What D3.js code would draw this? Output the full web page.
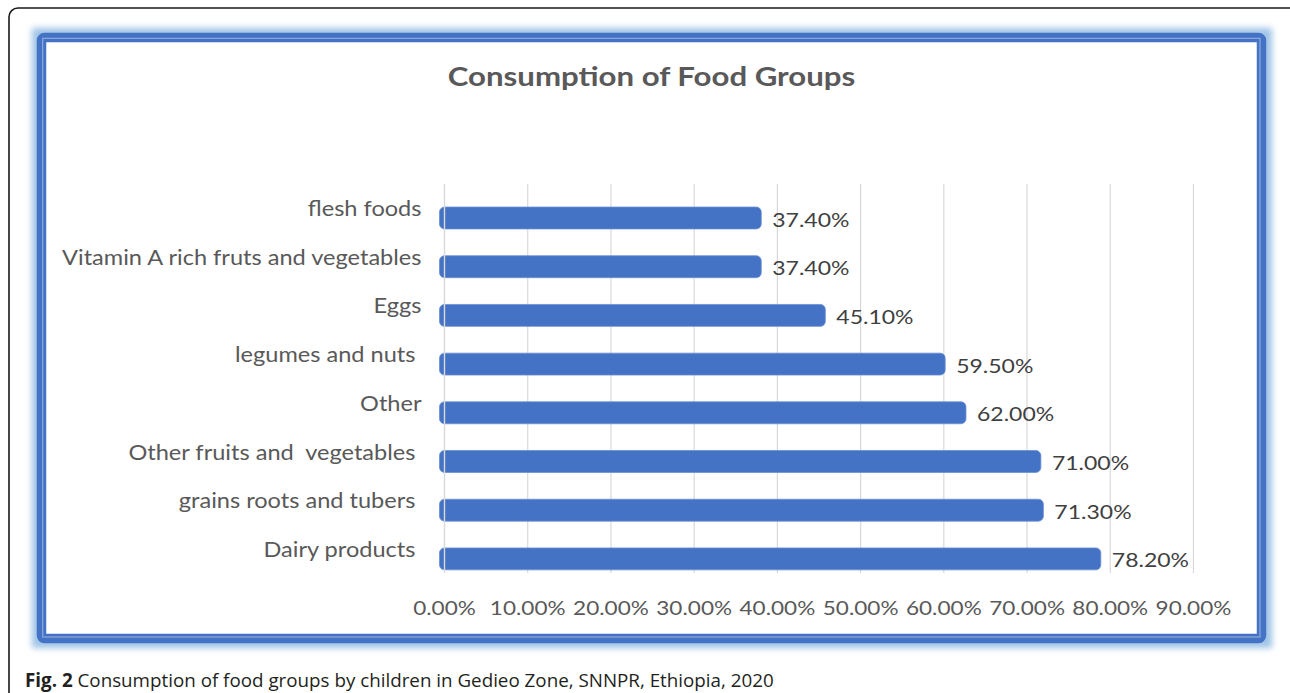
<!DOCTYPE html>
<html>
<head>
<meta charset="utf-8">
<script src="https://cdn.jsdelivr.net/npm/d3@7"></script>
<style>
  html, body { margin: 0; padding: 0; background: #fff; }
  svg { display: block; }
  text { white-space: pre; }
</style>
</head>
<body>
<svg id="chart" width="1290" height="693"></svg>
<script>
// ---- data ----
const categories = [
  "flesh foods",
  "Vitamin A rich fruts and vegetables",
  "Eggs",
  "legumes and nuts ",
  "Other",
  "Other fruits and  vegetables ",
  "grains roots and tubers ",
  "Dairy products "
];
const values = [0.374, 0.374, 0.451, 0.595, 0.62, 0.71, 0.713, 0.782];
const tickValues = [0, 0.1, 0.2, 0.3, 0.4, 0.5, 0.6, 0.7, 0.8, 0.9];
const titleText = "Consumption of Food Groups";
const captionBold = "Fig. 2";
const captionText = " Consumption of food groups by children in Gedieo Zone, SNNPR, Ethiopia, 2020";

const svg = d3.select("#chart");
const defs = svg.append("defs");
const glow = defs.append("filter").attr("id", "glow")
  .attr("x", "-5%").attr("y", "-5%").attr("width", "110%").attr("height", "110%");
glow.append("feGaussianBlur").attr("stdDeviation", 3);

// outer black frame
svg.append("rect").attr("x", 9).attr("y", 8).attr("width", 1295).attr("height", 720)
  .attr("rx", 9).attr("fill", "none").attr("stroke", "#1a1a1a").attr("stroke-width", 1.6);

// blue chart border with glow
svg.append("rect").attr("x", 37).attr("y", 33).attr("width", 1230).attr("height", 610)
  .attr("fill", "none").attr("stroke", "#9DC3E6").attr("stroke-width", 10)
  .attr("filter", "url(#glow)");
svg.append("rect").attr("x", 41.5).attr("y", 37.5).attr("width", 1220).attr("height", 601)
  .attr("rx", 3).attr("fill", "#fff").attr("stroke", "#4472C4").attr("stroke-width", 9.5);
svg.append("rect").attr("x", 42.7).attr("y", 38.3).attr("width", 1217.3).attr("height", 598.7)
  .attr("fill", "none").attr("stroke", "#8FAADC").attr("stroke-width", 1.2);

// scales
const x = d3.scaleLinear().domain([0, 0.9]).range([444.5, 1193.5]);
const y = d3.scaleBand().domain(categories).range([193.65, 583.25])
  .paddingInner(0.55).paddingOuter(0.275);
const gridTop = 184, gridBottom = 573;
const fmt = d3.format(".2%");
const chartFont = "Lato, 'Open Sans', sans-serif";
// the reference text is horizontally widened
const place = (px, py, sx) => `translate(${px},${py}) scale(${sx},1)`;

// gridlines (non-zero)
svg.append("g").selectAll("line").data(tickValues.filter(d => d > 0)).join("line")
  .attr("x1", d => x(d)).attr("x2", d => x(d))
  .attr("y1", gridTop).attr("y2", gridBottom)
  .attr("stroke", "#D9D9D9").attr("stroke-width", 1.2);

// bars
svg.append("g").selectAll("rect").data(values).join("rect")
  .attr("x", x(0) - 5)
  .attr("y", (d, i) => y(categories[i]))
  .attr("width", d => x(d) - x(0) + 10.5)
  .attr("height", y.bandwidth())
  .attr("rx", 5)
  .attr("fill", "#4472C4")
  .attr("stroke", "#6A8FD3").attr("stroke-width", 0.8);

// zero axis line over bars
svg.append("line").attr("x1", x(0)).attr("x2", x(0))
  .attr("y1", gridTop).attr("y2", gridBottom)
  .attr("stroke", "#D9D9D9").attr("stroke-width", 1.4);

// category labels
svg.append("g").selectAll("text").data(categories).join("text")
  .attr("transform", d => place(421.5, y(d) + y.bandwidth() / 2 - 2, 1.15))
  .attr("text-anchor", "end")
  .attr("font-family", chartFont).attr("font-size", 20.5)
  .attr("fill", "#595959")
  .text(d => d);

// value labels
svg.append("g").selectAll("text").data(values).join("text")
  .attr("transform", (d, i) => place(x(d) + 16.5, y(categories[i]) + y.bandwidth() / 2 + 8.5, 1.15))
  .attr("font-family", chartFont).attr("font-size", 20)
  .attr("fill", "#404040")
  .text(d => fmt(d));

// x axis tick labels
const axis = d3.axisBottom(x).tickValues(tickValues).tickFormat(fmt).tickSize(0).tickPadding(0);
const ag = svg.append("g").attr("transform", "translate(0,614.5)").call(axis);
ag.select(".domain").remove();
ag.selectAll(".tick").attr("transform", d => place(x(d), 0, 1.13));
ag.selectAll("text").attr("font-family", chartFont).attr("font-size", 20)
  .attr("fill", "#595959").attr("dy", 0).attr("y", 0);

// title
svg.append("text").attr("transform", place(651.5, 86, 1.2))
  .attr("text-anchor", "middle")
  .attr("font-family", chartFont).attr("font-weight", "bold").attr("font-size", 26)
  .attr("fill", "#595959")
  .text(titleText);

// caption
const cap = svg.append("text").attr("x", 25).attr("y", 687)
  .attr("font-family", "'Open Sans', sans-serif").attr("font-size", 18.8)
  .attr("fill", "#231F20");
cap.append("tspan").attr("font-weight", "bold").text(captionBold);
cap.append("tspan").text(captionText);
</script>
</body>
</html>
